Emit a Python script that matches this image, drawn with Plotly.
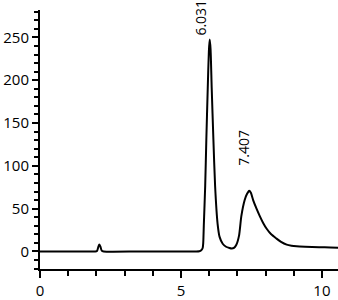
import plotly.graph_objects as go

# Retention time (min) and detector response
time_min = [0.0, 1.0, 1.95, 2.02, 2.07, 2.10, 2.14, 2.19, 2.26, 3.5, 5.0, 5.65, 5.72, 5.77,
            5.79, 5.81, 5.86, 5.90, 5.95, 5.99, 6.02, 6.05, 6.09, 6.15, 6.21, 6.30, 6.37, 6.48,
            6.60, 6.72, 6.80, 6.88, 6.96, 7.06, 7.14, 7.26, 7.34, 7.42, 7.48, 7.56,
            7.68, 7.80, 7.92, 8.04, 8.20, 8.39, 8.55, 8.75, 8.92, 9.10, 9.40, 9.90, 10.30, 10.6]
response = [0.0, 0.0, 0.0, 0.5, 5.5, 8.0, 6.0, 1.0, 0.0, 0.0, 0.0, 0.3, 1.5, 4.0,
            10.0, 30.0, 77.0, 131.0, 191.0, 234.0, 247.5, 236.0, 191.0, 131.0, 77.0, 32.0, 17.0, 9.0,
            5.5, 4.0, 3.4, 4.2, 7.5, 18.5, 41.0, 60.0, 67.0, 70.8, 68.5, 60.0,
            50.0, 41.0, 33.0, 26.5, 20.0, 15.0, 11.2, 8.0, 6.7, 6.0, 5.5, 5.0, 4.6, 4.4]

peak_times = [6.031, 7.407]
peak_heights = [247.5, 70.8]
peak_labels = ["6.031", "7.407"]

x_ticks = [0, 5, 10]
y_ticks = [0, 50, 100, 150, 200, 250]

FONT = "Open Sans"

fig = go.Figure()
fig.add_trace(go.Scatter(x=time_min, y=response, mode="lines",
                         line=dict(color="black", width=2, shape="spline", smoothing=0.6),
                         hoverinfo="skip"))

label_shifts = [(-9, 2), (-5, 23)]
for t, h, lab, (dx, dy) in zip(peak_times, peak_heights, peak_labels, label_shifts):
    fig.add_annotation(x=t, y=h, text=lab, showarrow=False, textangle=-90,
                       xanchor="center", yanchor="bottom", xshift=dx, yshift=dy,
                       font=dict(family=FONT, size=14, color="black"))

fig.update_layout(
    width=338, height=300,
    margin=dict(l=40, r=0, t=10, b=24),
    paper_bgcolor="white", plot_bgcolor="white",
    showlegend=False,
    font=dict(family=FONT, size=14, color="black"),
)
fig.update_xaxes(range=[0, 10.57], showgrid=False, zeroline=False,
                 showline=True, linecolor="black", linewidth=2,
                 tickmode="array", tickvals=x_ticks, ticktext=[str(v) for v in x_ticks],
                 ticks="outside", ticklen=7, tickwidth=2, tickcolor="black",
                 minor=dict(dtick=1, ticklen=5, tickwidth=2, tickcolor="black", ticks="outside"),
                 tickfont=dict(family=FONT, size=15))
fig.update_yaxes(range=[-20.5, 282], showgrid=False, zeroline=False,
                 showline=True, linecolor="black", linewidth=2,
                 tickmode="array", tickvals=y_ticks, ticktext=[str(v) for v in y_ticks],
                 ticks="outside", ticklen=6, tickwidth=2, tickcolor="black",
                 minor=dict(dtick=10, ticklen=4, tickwidth=2, tickcolor="black", ticks="outside"),
                 tickfont=dict(family=FONT, size=15))

fig.write_html("out.html")
